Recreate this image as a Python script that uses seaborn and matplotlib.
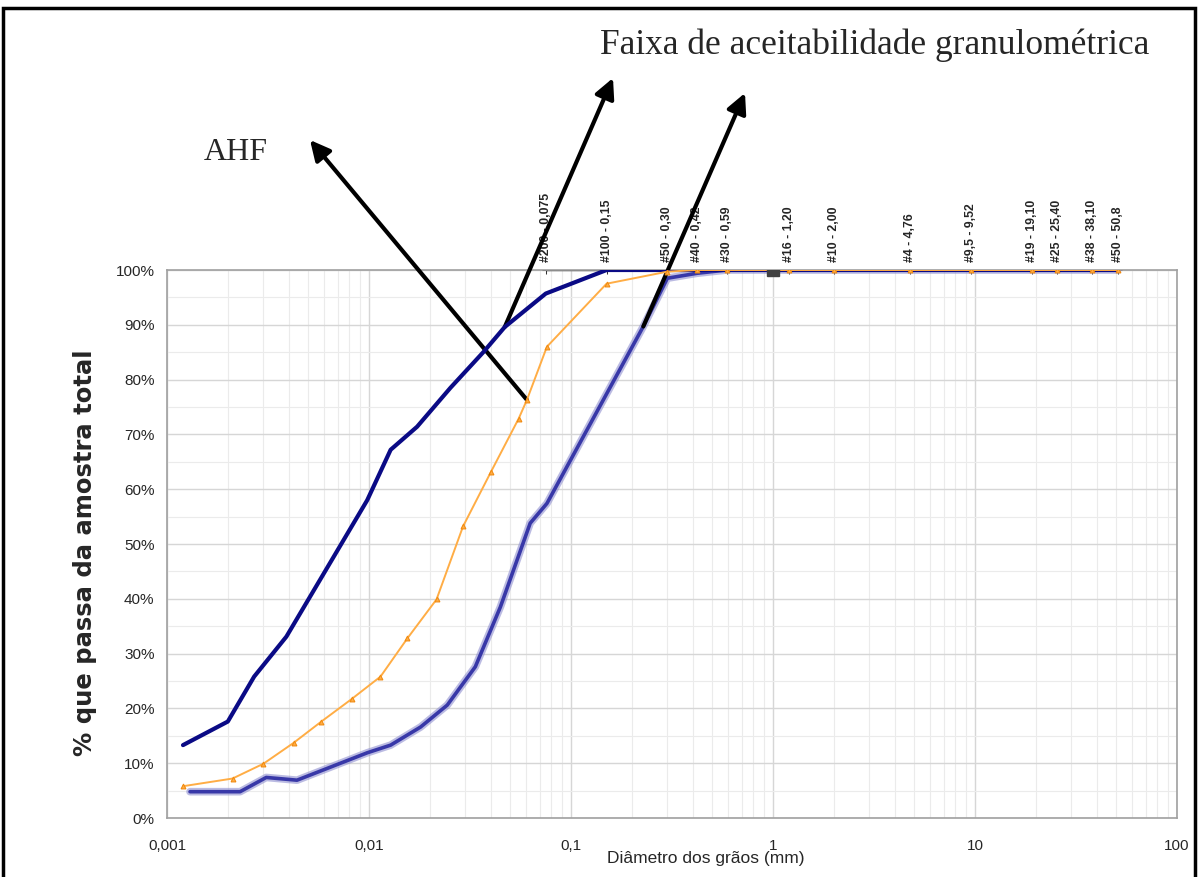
import numpy as np
import pandas as pd
import matplotlib
matplotlib.use("Agg")
import matplotlib.pyplot as plt
import matplotlib.ticker as mticker
from matplotlib.patches import Rectangle
import seaborn as sns

# --- data ---
sieve_d = [0.075, 0.15, 0.30, 0.42, 0.59, 1.20, 2.00, 4.76, 9.52, 19.10, 25.40, 38.10, 50.8]
sieve_labels = ["#200 - 0,075", "#100 - 0,15", "#50 - 0,30", "#40 - 0,42", "#30 - 0,59",
                "#16 - 1,20", "#10 - 2,00", "#4 - 4,76", "#9,5 - 9,52", "#19 - 19,10",
                "#25 - 25,40", "#38 - 38,10", "#50 - 50,8"]
sieve_p = [100] * len(sieve_d)

upper_d = [0.0012, 0.0020, 0.0027, 0.0039, 0.0098, 0.0128, 0.0173, 0.0253, 0.037, 0.047,
           0.075, 0.15, 0.30, 0.42, 0.59, 1.20, 2.00, 4.76, 9.52, 19.10, 25.40, 38.10, 50.8]
upper_p = [13.3, 17.6, 25.8, 33.1, 58.0, 67.2, 71.4, 78.5, 85.1, 89.6,
           95.7, 100, 100, 100, 100, 100, 100, 100, 100, 100, 100, 100, 100]

lower_d = [0.0013, 0.0023, 0.0031, 0.0044, 0.0098, 0.0128, 0.018, 0.0244, 0.0336, 0.0447,
           0.0628, 0.076, 0.228, 0.30, 0.42, 0.59, 1.20, 2.00, 4.76, 9.52, 19.10, 25.40,
           38.10, 50.8]
lower_p = [4.8, 4.8, 7.4, 6.9, 11.9, 13.3, 16.6, 20.6, 27.6, 38.5,
           53.8, 57.4, 89.7, 98.5, 99.4, 100, 100, 100, 100, 100, 100, 100, 100, 100]

ahf_d = [0.0012, 0.00211, 0.0030, 0.00423, 0.00581, 0.0082, 0.0114, 0.0155, 0.0216, 0.0292,
         0.0402, 0.0551, 0.0605, 0.076, 0.15, 0.30, 0.42, 0.59, 1.20, 2.00, 4.76, 9.52,
         19.10, 25.40, 38.10, 50.8]
ahf_p = [5.8, 7.2, 9.9, 13.7, 17.6, 21.7, 25.8, 32.8, 39.9, 53.2,
         63.2, 72.9, 76.3, 86.0, 97.5, 99.7, 100, 100, 100, 100, 100, 100, 100, 100, 100, 100]

square_d = [1.0]
square_p = [100]

x_ticks = [0.001, 0.01, 0.1, 1, 10, 100]
x_tick_labels = ["0,001", "0,01", "0,1", "1", "10", "100"]
y_ticks = list(range(0, 101, 10))
y_tick_labels = [f"{v}%" for v in y_ticks]

W, H = 1198, 877


def px(x, y):
    # image pixel (origin top-left) -> figure fraction
    return x / W, 1 - y / H


sns.set_style("white")
plt.rcParams["font.family"] = ["Liberation Sans", "DejaVu Sans"]

fig = plt.figure(figsize=(W / 100, H / 100), dpi=100)
ax = fig.add_axes([167 / W, 59 / H, 1010 / W, 548 / H])

lower = pd.DataFrame({"d": lower_d, "p": lower_p})
upper = pd.DataFrame({"d": upper_d, "p": upper_p})
ahf = pd.DataFrame({"d": ahf_d, "p": ahf_p})
sieves = pd.DataFrame({"d": sieve_d, "p": sieve_p})

sns.lineplot(data=sieves, x="d", y="p", ax=ax, color="#333333", lw=1.0,
             marker="+", markersize=6, markeredgecolor="#333333", sort=False, zorder=2)
sns.lineplot(data=lower, x="d", y="p", ax=ax, color="#8f8fd0", lw=5.5, sort=False,
             alpha=0.6, zorder=3)
sns.lineplot(data=lower, x="d", y="p", ax=ax, color="#3838a8", lw=2.6, sort=False, zorder=3)
sns.lineplot(data=upper, x="d", y="p", ax=ax, color="#0a0a85", lw=3.0, sort=False, zorder=4)
sns.lineplot(data=ahf, x="d", y="p", ax=ax, color="#ffad45", lw=1.4, marker="^",
             markersize=3.5, markeredgecolor="#f08a10", sort=False, zorder=5)
ax.plot(square_d, square_p, ls="none", marker="s", markersize=9, color="#404040", zorder=6)

ax.set_xscale("log")
ax.set_xlim(0.001, 100)
ax.set_ylim(0, 100)
ax.xaxis.set_major_locator(mticker.FixedLocator(x_ticks))
ax.xaxis.set_major_formatter(mticker.FixedFormatter(x_tick_labels))
ax.xaxis.set_minor_locator(mticker.LogLocator(base=10, subs=np.arange(2, 10)))
ax.xaxis.set_minor_formatter(mticker.NullFormatter())
ax.yaxis.set_major_locator(mticker.FixedLocator(y_ticks))
ax.yaxis.set_major_formatter(mticker.FixedFormatter(y_tick_labels))
ax.yaxis.set_minor_locator(mticker.MultipleLocator(5))

ax.grid(which="major", color="#d6d6d6", lw=1.0)
ax.grid(which="minor", color="#ebebeb", lw=0.8)
ax.set_axisbelow(True)
for s in ax.spines.values():
    s.set_color("#a0a0a0")
    s.set_linewidth(1.2)

ax.tick_params(axis="both", which="major", labelsize=11, length=5, color="#a0a0a0",
               direction="out", pad=10)
ax.tick_params(axis="y", which="major", pad=4)
ax.tick_params(axis="both", which="minor", length=0)

ax.set_xlabel("Diâmetro dos grãos (mm)", fontsize=12.5)
ax.xaxis.set_label_coords(0.533, -0.061)
ax.set_ylabel("% que passa da amostra total", fontsize=17.5, fontweight="bold",
              family=["DejaVu Sans"])
ax.yaxis.set_label_coords(-0.069, 0.484)

# sieve labels above the chart
for d, lab in zip(sieve_d, sieve_labels):
    ax.text(d, 1.014, lab, transform=ax.get_xaxis_transform(), rotation=90,
            ha="center", va="bottom", fontsize=8.8, fontweight="bold",
            family=["Liberation Sans Narrow", "Liberation Sans"])

# annotations
arrow = dict(arrowstyle="-|>", color="black", lw=3, mutation_scale=30, shrinkA=0, shrinkB=0)
ax.annotate("", xy=px(310, 140), xycoords="figure fraction",
            xytext=(0.0605, 76.3), textcoords="data", arrowprops=arrow, annotation_clip=False)
ax.annotate("", xy=px(613, 78), xycoords="figure fraction",
            xytext=(0.047, 89.6), textcoords="data", arrowprops=arrow, annotation_clip=False)
ax.annotate("", xy=px(745, 93), xycoords="figure fraction",
            xytext=(0.228, 89.7), textcoords="data", arrowprops=arrow, annotation_clip=False)

fig.text(*px(600, 45), "Faixa de aceitabilidade granulométrica", fontsize=25.5,
         family=["Liberation Serif", "DejaVu Serif"], va="center", ha="left")
fig.text(*px(204, 153), "AHF", fontsize=23,
         family=["Liberation Serif", "DejaVu Serif"], va="center", ha="left")

# page frame
fig.add_artist(Rectangle((3 / W, -0.05), 1192 / W, 1.05 - 8 / H, transform=fig.transFigure,
                         fill=False, edgecolor="black", lw=2.5))

fig.savefig("out.png", dpi=100)
